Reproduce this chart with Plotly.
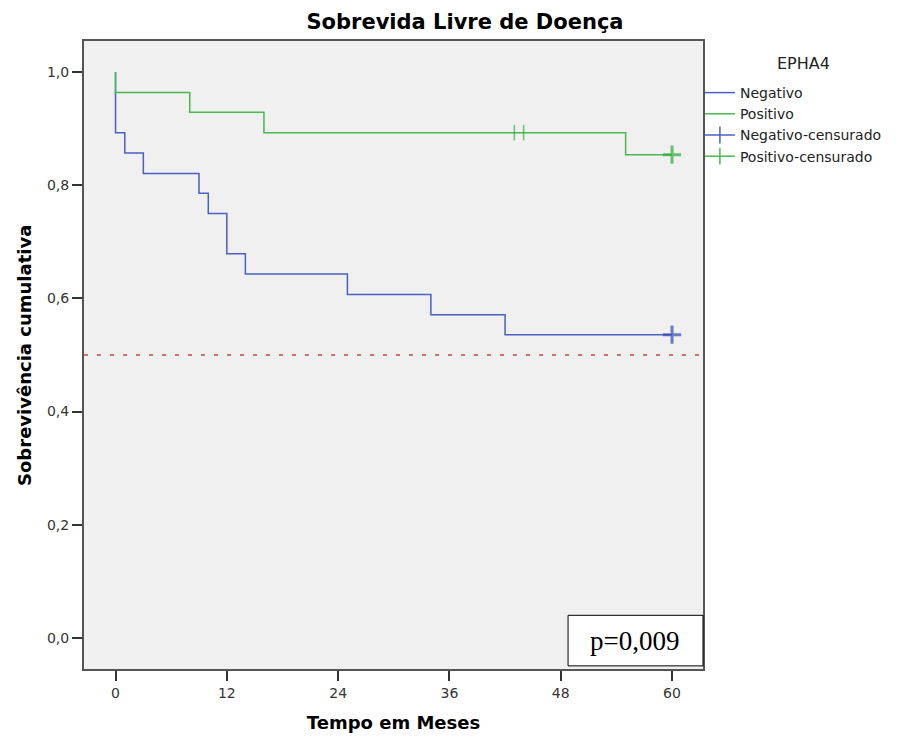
import plotly.graph_objects as go

# ---- data ----
neg_time = [0, 0, 1, 3, 9, 10, 12, 14, 25, 34, 42, 60]
neg_surv = [1.0, 0.893, 0.857, 0.821, 0.786, 0.750, 0.679, 0.643, 0.607, 0.571, 0.536, 0.536]
pos_time = [0, 0, 8, 16, 55, 60]
pos_surv = [1.0, 0.964, 0.929, 0.893, 0.854, 0.854]
neg_cens_time = [60]
neg_cens_surv = [0.536]
pos_cens_time = [43, 44, 60]
pos_cens_surv = [0.893, 0.893, 0.854]
reference_level = 0.5
x_ticks = [0, 12, 24, 36, 48, 60]
y_ticks = [0.0, 0.2, 0.4, 0.6, 0.8, 1.0]
p_text = "p=0,009"

BLUE = "#4A5FC1"
GREEN = "#47B94F"
BLUE_D = "#3348B0"
GREEN_D = "#2FA83B"
FONT = "DejaVu Sans"

# page has an 8px body margin; the figure is sized so the window shows it like the reference
W, H = 896, 730
OFF = 8

fig = go.Figure()

fig.add_trace(go.Scatter(x=neg_time, y=neg_surv, mode="lines", line=dict(shape="hv", color=BLUE, width=1.5),
                         name="Negativo"))
fig.add_trace(go.Scatter(x=pos_time, y=pos_surv, mode="lines", line=dict(shape="hv", color=GREEN, width=1.5),
                         name="Positivo"))


def cens_style(xs):
    sym = ["line-ns"] * len(xs)
    size = [11] * len(xs)
    lw = [1.5] * len(xs)
    sym[-1] = "cross-thin"
    size[-1] = 13
    lw[-1] = 3
    return sym, size, lw


s, sz, lw = cens_style(neg_cens_time)
fig.add_trace(go.Scatter(x=neg_cens_time, y=neg_cens_surv, mode="markers", showlegend=False,
                         marker=dict(symbol=s, size=sz, color=BLUE_D, line=dict(color=BLUE_D, width=lw))))
s, sz, lw = cens_style(pos_cens_time)
fig.add_trace(go.Scatter(x=pos_cens_time, y=pos_cens_surv, mode="markers", showlegend=False,
                         marker=dict(symbol=s, size=sz, color=GREEN_D, line=dict(color=GREEN_D, width=lw))))

# legend-only entries for censored marks
fig.add_trace(go.Scatter(x=[None], y=[None], mode="lines+markers", name="Negativo-censurado",
                         line=dict(color=BLUE, width=1.5),
                         marker=dict(symbol="line-ns", size=12, color=BLUE, line=dict(color=BLUE, width=1.5))))
fig.add_trace(go.Scatter(x=[None], y=[None], mode="lines+markers", name="Positivo-censurado",
                         line=dict(color=GREEN, width=1.5),
                         marker=dict(symbol="line-ns", size=12, color=GREEN, line=dict(color=GREEN, width=1.5))))

fig.add_shape(type="line", xref="x domain", x0=0, x1=1, yref="y", y0=reference_level, y1=reference_level,
              line=dict(color="#C04848", width=1.6, dash="4px,9px"), layer="below")

# p-value box
fig.add_shape(type="rect", xref="paper", yref="paper", x0=0.782, x1=1.0, y0=0.005, y1=0.0855,
              fillcolor="white", line=dict(color="black", width=1), layer="above")
fig.add_annotation(text=p_text, xref="paper", yref="paper", x=0.890, y=0.045, showarrow=False,
                   xanchor="center", yanchor="middle",
                   font=dict(family="Liberation Serif", size=27, color="black"))

# axis title / legend title
fig.add_annotation(text="<b>Sobrevivência cumulativa</b>", xref="paper", yref="paper",
                   x=-0.097, y=0.5, textangle=-90, showarrow=False, xanchor="center", yanchor="middle",
                   font=dict(family=FONT, size=18, color="black"))
fig.add_annotation(text="EPHA4", xref="paper", yref="paper", x=(803 - 84) / 619, y=(669 - 63) / 628,
                   showarrow=False, xanchor="center", yanchor="middle",
                   font=dict(family=FONT, size=16, color="#222"))

fig.update_layout(
    width=W, height=H,
    margin=dict(l=84 - OFF, r=W - (703 - OFF), t=41 - OFF, b=H - (669 - OFF), autoexpand=False),
    paper_bgcolor="white", plot_bgcolor="#F0F0F0",
    separators=",.",
    font=dict(family=FONT, color="#333"),
    title=dict(text="<b>Sobrevida Livre de Doença</b>", x=(465 - OFF) / W, xanchor="center",
               y=1 - (22 - OFF) / H, yanchor="middle", yref="container",
               font=dict(family=FONT, size=21, color="black")),
    showlegend=True,
    legend=dict(x=0.995, xanchor="left", y=(669 - 77) / 628, yanchor="top",
                font=dict(family=FONT, size=14, color="#222"), bgcolor="rgba(0,0,0,0)",
                borderwidth=0, tracegroupgap=0),
)

fig.update_xaxes(range=[-3.4, 63.34], tickvals=x_ticks, ticks="outside", ticklen=10, tickwidth=1.5,
                 tickcolor="#333", showgrid=False, zeroline=False, showline=True, linecolor="#555",
                 linewidth=2, mirror=True, automargin=False,
                 tickfont=dict(family=FONT, size=14, color="#333"),
                 title=dict(text="<b>Tempo em Meses</b>", font=dict(family=FONT, size=18, color="black"),
                            standoff=17))
fig.update_yaxes(range=[-0.055, 1.055], tickvals=y_ticks, tickformat=".1f", ticks="outside", ticklen=10,
                 tickwidth=1.5, tickcolor="#333", showgrid=False, zeroline=False, showline=True,
                 linecolor="#555", linewidth=2, mirror=True, automargin=False,
                 tickfont=dict(family=FONT, size=14, color="#333"))

fig.write_html("out.html")
